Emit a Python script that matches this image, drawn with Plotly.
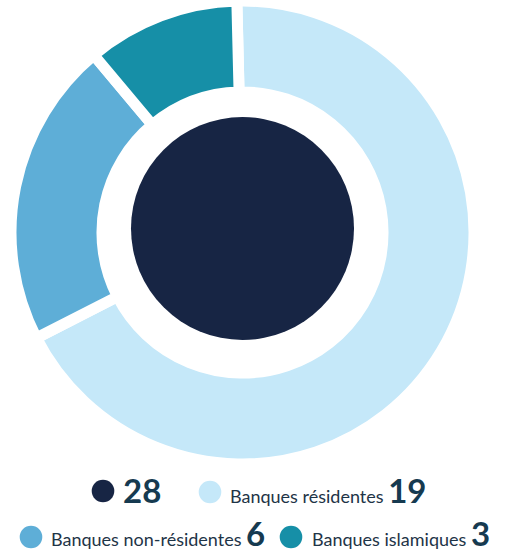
import plotly.graph_objects as go

# ---- data ----
labels = ["Banques résidentes", "Banques non-résidentes", "Banques islamiques"]
values = [19, 6, 3]
total = sum(values)  # 28

# ---- styles ----
slice_colors = ["#C5E8F9", "#5EAED7", "#168FA7"]
navy = "#172544"
label_color = "#1E3447"
number_color = "#163A50"
W, H = 509, 553

def px_x(v):
    return v / W

def px_y(v):
    return 1 - v / H

fig = go.Figure()

# outer donut (stroke of 11px white creates the gaps)
cx, cy, r_out = 242.5, 232.5, 231.5
fig.add_trace(go.Pie(
    labels=labels, values=values, sort=False, direction="clockwise",
    rotation=-1.4, hole=0.607,
    marker=dict(colors=slice_colors, line=dict(color="white", width=11)),
    textinfo="none", showlegend=False,
    domain=dict(x=[px_x(cx - r_out), px_x(cx + r_out)],
                y=[px_y(cy + r_out), px_y(cy - r_out)]),
))

# central disc for the total
ccx, ccy, r_in = 242.5, 228.5, 111.5
fig.add_trace(go.Pie(
    labels=["Total"], values=[total], sort=False, hole=0,
    marker=dict(colors=[navy], line=dict(width=0)),
    textinfo="none", showlegend=False,
    domain=dict(x=[px_x(ccx - r_in), px_x(ccx + r_in)],
                y=[px_y(ccy + r_in), px_y(ccy - r_in)]),
))

# ---- custom legend ----
num_size = 33
lab_size = 18
dot_r = 11.3
legend_items = [
    # (dot colour, dot centre x, dot centre y, text left x, text centre y, label, value)
    (navy, 103, 491, 121, 489.5, None, total),
    (slice_colors[0], 210, 492, 228, 489.5, labels[0], values[0]),
    (slice_colors[1], 31, 537, 49, 532.5, labels[1], values[1]),
    (slice_colors[2], 291, 537, 310, 532.5, labels[2], values[2]),
]

shapes = []
annotations = []
for col, dx, dy, tx, ty, lab, val in legend_items:
    shapes.append(dict(
        type="circle", xref="paper", yref="paper",
        xsizemode="pixel", ysizemode="pixel",
        xanchor=px_x(dx), yanchor=px_y(dy),
        x0=-dot_r, x1=dot_r, y0=-dot_r, y1=dot_r,
        fillcolor=col, line=dict(width=0),
    ))
    num = f"<span style='font-size:{num_size}px;color:{number_color}'><b>{val}</b></span>"
    txt = num if lab is None else f"{lab} {num}"
    annotations.append(dict(
        xref="paper", yref="paper", x=px_x(tx), y=px_y(ty),
        xanchor="left", yanchor="middle", showarrow=False,
        text=txt, font=dict(family="Lato", size=lab_size, color=label_color),
    ))

fig.update_layout(
    width=W, height=H,
    margin=dict(l=0, r=0, t=0, b=0, pad=0),
    paper_bgcolor="white", plot_bgcolor="white",
    shapes=shapes, annotations=annotations,
    font=dict(family="Lato"),
)

fig.write_html(
    "out.html",
    config={"displayModeBar": False},
    post_script="document.body.style.margin='0';document.body.style.overflow='hidden';",
)
